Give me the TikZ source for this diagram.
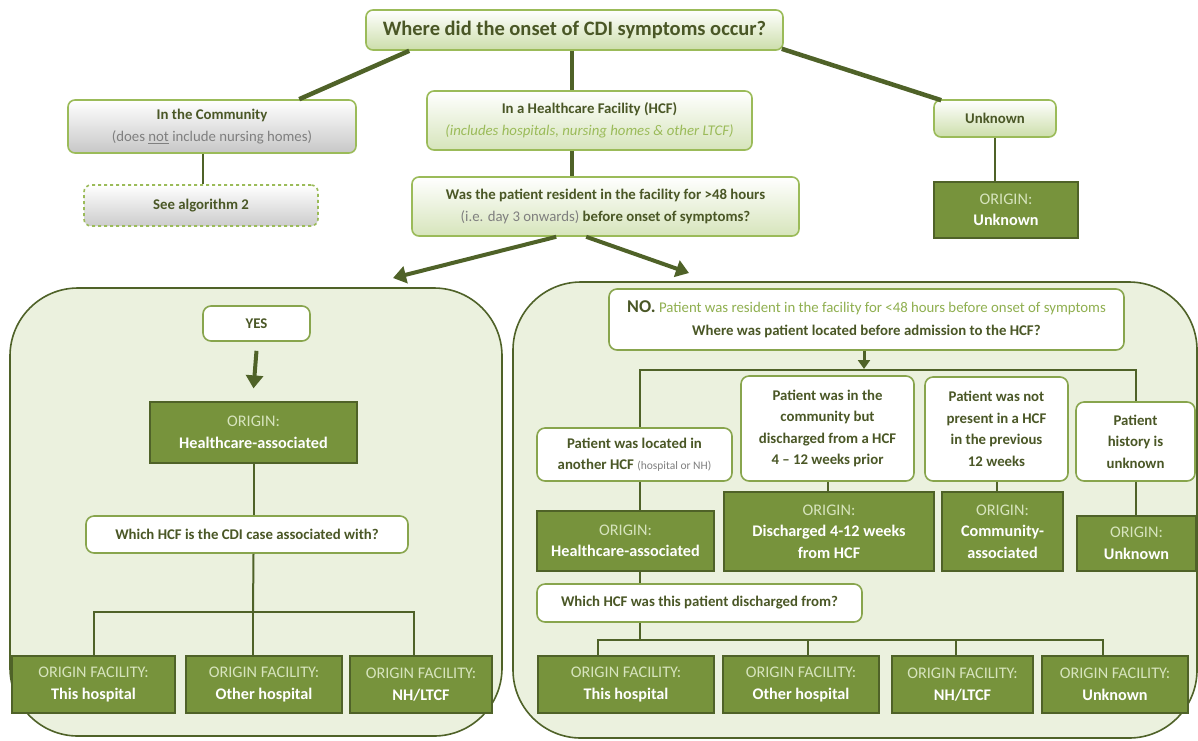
\documentclass[tikz,border=0pt]{standalone}
\usepackage{fontspec}
\setmainfont{Carlito}
\usetikzlibrary{arrows.meta,calc}
\definecolor{dk}{HTML}{4F6228}
\definecolor{og}{HTML}{77933C}
\definecolor{lg}{HTML}{9BBB59}
\definecolor{pale}{HTML}{EBF1DE}
\definecolor{pale2}{HTML}{CCDEAA}
\definecolor{txt}{HTML}{4A5726}
\definecolor{gtxt}{HTML}{7F7F7F}
\definecolor{ortxt}{HTML}{D7E4BD}
\definecolor{ltxt}{HTML}{8FAF4F}
\newcommand\bx[6]{\node[#1,minimum width={(#4)-(#2)},minimum height={(#5)-(#3)}] (#6) at ({((#2)+(#4))/2},{((#3)+(#5))/2})}
\tikzset{
  every node/.style={inner sep=0pt, align=center},
  gbox/.style={draw=lg, line width=1.6pt, rounded corners=7pt, top color=white, bottom color=pale2, text=txt, font=\fontsize{14.8}{22}\selectfont},
  graybox/.style={draw=lg, line width=1.6pt, rounded corners=7pt, top color=white, bottom color=black!22, text=txt, font=\fontsize{14.8}{22}\selectfont},
  wbox/.style={draw=lg!75!dk, line width=1.6pt, rounded corners=8pt, fill=white, text=txt, font=\bfseries\fontsize{14.8}{21.5}\selectfont},
  obox/.style={draw=dk, line width=1.2pt, fill=og, text=white, font=\fontsize{16.2}{21.5}\selectfont},
  link/.style={draw=dk, line width=2pt},
  biglink/.style={draw=dk, line width=4.5pt},
  bigarrow/.style={draw=dk, line width=4pt, -{Triangle[length=13pt,width=17pt]}},
  smallarrow/.style={draw=dk, line width=3pt, -{Triangle[length=9pt,width=12pt]}},
  panel/.style={draw=dk, line width=1.6pt, fill=pale, rounded corners=68pt}
}
\begin{document}
\begin{tikzpicture}[x=1pt,y=-1pt]
\useasboundingbox[fill=white] (0,0) rectangle (1198,740);
% panels
\path[panel] (10,288) rectangle (502,736);
\path[panel] (513,282) rectangle (1197,738);

% top part
\bx{gbox,font=\bfseries\fontsize{20.5}{24}\selectfont}{366}{10}{783}{50}{top}{Where did the onset of CDI symptoms occur?};
\bx{graybox}{68}{100}{356}{153}{com}{\textbf{In the Community}\\{\color{gtxt}(does \underline{not} include nursing homes)}};
\bx{graybox,dashed,draw=lg,bottom color=black!20}{84}{185}{318}{226}{alg}{\textbf{See algorithm 2}};
\bx{gbox,top color=white,bottom color=pale2!80}{427}{91}{752}{150}{hcf}{\textbf{In a Healthcare Facility (HCF)}\\{\color{lg}\itshape(includes hospitals, nursing homes \& other LTCF)}};
\bx{gbox,top color=white,bottom color=pale2!80}{412}{177}{799}{236}{q}{\textbf{Was the patient resident in the facility for >48 hours}\\{\color{gtxt}(i.e. day 3 onwards)} \textbf{before onset of symptoms?}};
\bx{gbox}{934}{100}{1056}{137}{unk}{\textbf{Unknown}};
\bx{obox}{934}{182}{1078}{238}{ou}{{\color{ortxt}ORIGIN:}\\\textbf{Unknown}};

\draw[biglink] ($(top.south west)+(44,0)$) -- ($(com.north west)+(232,0)$);
\draw[biglink] ($(top.south west)+(207,0)$) -- ($(hcf.north west)+(146,0)$);
\draw[biglink] ($(top.south east)+(-2,-2)$) -- ($(unk.north west)+(8,1)$);
\draw[link] ($(com.south west)+(136,0)$) -- ($(alg.north west)+(120,0)$);
\draw[biglink] ($(hcf.south west)+(146,0)$) -- ($(q.north west)+(161,0)$);
\draw[link] (unk.south) -- (unk.south |- ou.north);

\coordinate (aL) at (393,278);
\coordinate (aR) at (689,273);
\draw[bigarrow] ($(q.south west)+(145,0)$) -- (aL);
\draw[bigarrow] ($(q.south west)+(175,0)$) -- (aR);

% left panel
\bx{wbox}{203}{306}{310}{341}{yes}{YES};
\bx{obox}{150}{402}{357}{463}{oh}{{\color{ortxt}ORIGIN:}\\\textbf{Healthcare-associated}};
\bx{wbox}{86}{516}{408}{553}{wh}{Which HCF is the CDI case associated with?};
\bx{obox}{12}{656}{175}{713}{la}{{\color{ortxt}ORIGIN FACILITY:}\\\textbf{This hospital}};
\bx{obox}{186}{656}{342}{713}{lb}{{\color{ortxt}ORIGIN FACILITY:}\\\textbf{Other hospital}};
\bx{obox}{350}{656}{492}{713}{lc}{{\color{ortxt}ORIGIN FACILITY:}\\\textbf{NH/LTCF}};

\draw[bigarrow] ($(yes.south)+(0,9)$) -- ($(oh.north)+(0,-13)$);
\draw[link] (oh.south) -- (oh.south |- wh.north);
\coordinate (jL) at (253,612);
\draw[link] (oh.south |- wh.south) -- (jL);
\draw[link] (la.north) |- (jL) -| ($(lc.north)+(-7,0)$);
\draw[link] (jL) -- (jL |- lb.north);

% right panel
\bx{wbox,font=\fontsize{14.8}{23}\selectfont}{609}{289}{1124}{350}{no}{{\bfseries\fontsize{18}{20}\selectfont NO.} {\color{ltxt}Patient was resident in the facility for <48 hours before onset of symptoms}\\\textbf{Where was patient located before admission to the HCF?}};
\bx{wbox}{537}{428}{732}{481}{b1}{Patient was located in\\another HCF {\mdseries\color{gtxt}\fontsize{11.5}{12}\selectfont(hospital or NH)}};
\bx{wbox}{741}{376}{914}{481}{b2}{Patient was in the\\community but\\discharged from a HCF\\4 -- 12 weeks prior};
\bx{wbox}{925}{377}{1068}{481}{b3}{Patient was not\\present in a HCF\\in the previous\\12 weeks};
\bx{wbox}{1076}{402}{1195}{481}{b4}{Patient\\history is\\unknown};

\bx{obox}{537}{511}{714}{571}{o1}{{\color{ortxt}ORIGIN:}\\\textbf{Healthcare-associated}};
\bx{obox}{724}{492}{934}{571}{o2}{{\color{ortxt}ORIGIN:}\\\textbf{Discharged 4-12 weeks}\\\textbf{from HCF}};
\bx{obox}{942}{492}{1063}{571}{o3}{{\color{ortxt}ORIGIN:}\\\textbf{Community-}\\\textbf{associated}};
\bx{obox}{1077}{516}{1196}{571}{o4}{{\color{ortxt}ORIGIN:}\\\textbf{Unknown}};

\bx{wbox}{537}{584}{862}{622}{wd}{Which HCF was this patient discharged from?};
\bx{obox}{538}{656}{714}{713}{r1}{{\color{ortxt}ORIGIN FACILITY:}\\\textbf{This hospital}};
\bx{obox}{723}{656}{879}{713}{r2}{{\color{ortxt}ORIGIN FACILITY:}\\\textbf{Other hospital}};
\bx{obox}{892}{656}{1033}{713}{r3}{{\color{ortxt}ORIGIN FACILITY:}\\\textbf{NH/LTCF}};
\bx{obox}{1042}{656}{1188}{713}{r4}{{\color{ortxt}ORIGIN FACILITY:}\\\textbf{Unknown}};

\coordinate (bl) at (640,370);
\coordinate (br) at (1136,370);
\draw[smallarrow] (no.south -| 864,0) -- (864,369);
\draw[link] (b1.north -| bl) -- (bl) -- (br) -- (br |- b4.north);
\draw[link] (b1.south -| bl) -- (o1.north -| bl);
\draw[link] (b2.south) -- (b2.south |- o2.north);
\draw[link] (b3.south) -- (b3.south |- o3.north);
\draw[link] (b4.south -| br) -- (o4.north -| br);
\draw[link] (o1.south -| bl) -- (wd.north -| bl);
\coordinate (jR) at (640,640);
\draw[link] (wd.south -| bl) -- (jR);
\draw[link] ($(r1.north)+(-28,0)$) |- (jR) -| ($(r4.north)+(-12,0)$);
\draw[link] (jR -| 808,0) -- (r2.north -| 808,0);
\draw[link] (jR -| 956,0) -- (r3.north -| 956,0);
\end{tikzpicture}
\end{document}
